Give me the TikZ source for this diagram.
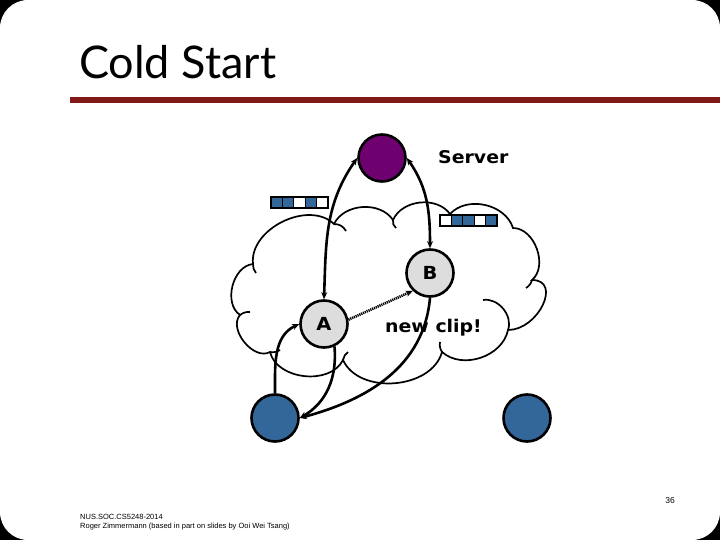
\documentclass[tikz,border=0pt]{standalone}
\usepackage{fontspec}
\setmainfont{DejaVu Sans}
\newfontfamily\titlefont{Lato}
\newfontfamily\labelfont[FakeStretch=1.08]{DejaVu Sans}
\newfontfamily\footfont{Liberation Sans}
\usepackage{tikz}
\usetikzlibrary{arrows.meta,positioning,calc}
\definecolor{slidered}{RGB}{128,24,24}
\definecolor{serverpurple}{RGB}{110,0,112}
\definecolor{peerblue}{RGB}{51,102,153}
\definecolor{nodegray}{RGB}{221,221,221}
\tikzset{
  peer/.style={circle, draw=black, line width=2.6pt, minimum size=47pt,
               inner sep=0pt, font=\labelfont\bfseries\fontsize{18}{20}\selectfont},
  cloud/.style={draw=black, line width=1.7pt},
  link/.style={{Stealth[length=7pt,width=6pt]}-{Stealth[length=7pt,width=6pt]},
               line width=2.6pt, black},
  push/.style={-{Stealth[length=7pt,width=6pt]}, line width=2.6pt, black},
  dotlink/.style={-{Stealth[length=7pt,width=6pt]}, line width=2.6pt, black,
                  dash pattern=on 1.2pt off 0.8pt},
  cellfull/.style={fill=peerblue, draw=black, line width=1.2pt},
  cellfree/.style={fill=white, draw=black, line width=1.2pt},
  caption/.style={font=\labelfont\bfseries\fontsize{17.5}{20}\selectfont, inner sep=0pt},
}

\begin{document}
\begin{tikzpicture}[x=1pt, y=1pt]

%% Slide frame
\fill[black] (0,0) rectangle (720,-540);
\fill[white, rounded corners=28pt] (0,0) rectangle (720,-540);
\useasboundingbox (0,0) rectangle (720,-540);

%% Title and rule
\node[font=\titlefont\fontsize{45}{50}\selectfont, anchor=base west, inner sep=0pt]
     (title) at (79,-79) {Cold Start};
\fill[slidered] (70,-97) rectangle (720,-103);

%% Cloud (drawn first, everything sits on top)
\draw[cloud] (253,-264) to[bend left=70] (334,-224)
     to[bend left=60] (393,-220)
     to[bend left=60] (450,-214)
     to[bend left=60] (513,-228)
     to[bend left=70] (532,-280)
     to[out=0, in=0, looseness=1.4] (508,-330)
     to[bend left=60] (442,-352)
     to[bend left=70] (343,-360)
     to[bend left=70] (270,-352)
     to[bend left=80] (240,-315)
     to[bend left=70] (253,-264);
%% small hooks of the cloud outline
\draw[cloud] (334,-224) to[bend left=30] (346,-231);
\draw[cloud] (393,-220) to[bend right=30] (396,-228);
\draw[cloud] (532,-280) to[bend left=20] (526,-288);
\draw[cloud] (483,-300) to[bend left=60] (508,-330);
\draw[cloud] (442,-352) to[bend left=20] (440,-342);
\draw[cloud] (343,-360) to[bend left=20] (348,-352);
\draw[cloud] (270,-352) to[bend right=20] (280,-350);
\draw[cloud] (240,-315) to[bend left=20] (250,-312);
\draw[cloud] (253,-264) to[bend right=20] (256,-273);

%% Buffers
\def\bw{11.4}
\filldraw[cellfull] (271,-197) rectangle ++(\bw,-11);
\filldraw[cellfull] (271+\bw,-197) rectangle ++(\bw,-11);
\filldraw[cellfree] (271+2*\bw,-197) rectangle ++(\bw,-11);
\filldraw[cellfull] (271+3*\bw,-197) rectangle ++(\bw,-11);
\filldraw[cellfree] (271+4*\bw,-197) rectangle ++(\bw,-11);

\filldraw[cellfree] (440,-215) rectangle ++(\bw,-11);
\filldraw[cellfull] (440+\bw,-215) rectangle ++(\bw,-11);
\filldraw[cellfull] (440+2*\bw,-215) rectangle ++(\bw,-11);
\filldraw[cellfree] (440+3*\bw,-215) rectangle ++(\bw,-11);
\filldraw[cellfull] (440+4*\bw,-215) rectangle ++(\bw,-11);

%% Hosts
\node[peer, fill=serverpurple] (server) at (382,-158) {};
\node[peer, fill=nodegray]     (A)      at (324,-324) {A};
\node[peer, fill=nodegray]     (B)      at (430,-273) {B};
\node[peer, fill=peerblue]     (peerL)  at (275,-418) {};
\node[peer, fill=peerblue]     (peerR)  at (527,-418) {};

%% Labels
\node[caption, anchor=west] (serverlbl) at (438,-157) {Server};
\node[caption, anchor=west] (cliplbl)   at (385,-328) {new clip!};

%% Connections
\draw[link] (A.north) to[out=88, in=235] (server.west);
\draw[link] (server.east) to[out=-55, in=90] (B.north);
\draw[dotlink] (A.10) -- (B.226);
\draw[push] (peerL.north) to[out=90, in=205] (A.west);
\draw[push] (A.-65) to[out=-85, in=30] (peerL.east);
\draw[push] (B.south) to[out=-95, in=15] (peerL.east);

%% Footer
\node[font=\footfont\fontsize{7.5}{9}\selectfont, anchor=base west, inner sep=0pt]
     (course) at (80,-519) {NUS.SOC.CS5248-2014};
\node[font=\footfont\fontsize{7.5}{9}\selectfont, anchor=base west, inner sep=0pt]
     (author) at (80,-528) {Roger Zimmermann (based in part on slides by Ooi Wei Tsang)};
\node[font=\footfont\fontsize{8.5}{10}\selectfont, inner sep=0pt]
     (pageno) at (670,-501) {36};

\end{tikzpicture}
\end{document}
